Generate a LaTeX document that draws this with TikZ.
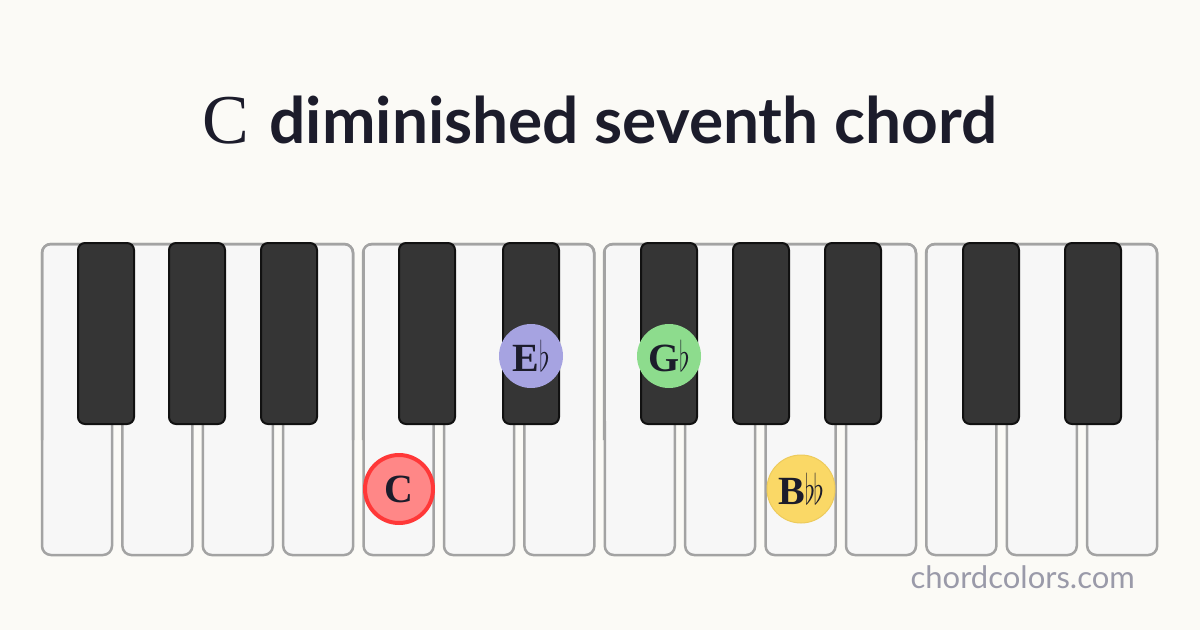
\documentclass[tikz,border=0pt]{standalone}
\usepackage{fix-cm}
\usepackage{fontspec}
\setmainfont{Liberation Serif}
\setsansfont{Lato}
\usepackage{graphicx}

\definecolor{bg}{HTML}{FBFAF6}
\definecolor{keyfill}{HTML}{F7F7F7}
\definecolor{keyline}{HTML}{A3A3A3}
\definecolor{blackfill}{HTML}{353535}
\definecolor{blackline}{HTML}{111111}
\definecolor{ink}{HTML}{1C1C2B}
\definecolor{redfill}{HTML}{FF8787}
\definecolor{redline}{HTML}{FF3838}
\definecolor{bluefill}{HTML}{A6A3E1}
\definecolor{greenfill}{HTML}{8DDC8D}
\definecolor{yellowfill}{HTML}{FAD866}
\definecolor{yellowline}{HTML}{EDCB5C}
\definecolor{webgray}{HTML}{9A9AA9}

\newcommand{\flatsign}{\scalebox{0.7}[1.05]{$\flat$}}

\begin{document}
\begin{tikzpicture}[x=1pt,y=-1pt,
	whitekey/.style={fill=keyfill,draw=keyline,line width=2.5pt,rounded corners=9pt},
	blackkey/.style={fill=blackfill,draw=blackline,line width=2pt,rounded corners=7pt},
	note/.style={circle,inner sep=0pt,text=ink,font=\bfseries\fontsize{40}{40}\selectfont}]
	\fill[bg] (0,0) rectangle (1200,630);
	\useasboundingbox (0,0) rectangle (1200,630);
	% title
	\node[anchor=base,text=ink,inner sep=0pt] (title) at (600,143)
		{{\rmfamily\fontsize{70}{70}\selectfont C}\hspace{20pt}{\sffamily\bfseries\fontsize{64}{64}\selectfont diminished seventh chord}};
	% white keys
	\foreach \i in {0,...,13}
		\draw[whitekey] ({42+80.4*\i},244) rectangle ++(70,311);
	% join the tops of each group
	\foreach \l/\r in {42/353,363/594,604/916,926/1157}{
		\fill[keyfill] ({\l+2},246) rectangle ({\r-2},421);
		\draw[keyline,line width=2.5pt,rounded corners=9pt] (\l,440) -- (\l,244) -- (\r,244) -- (\r,440);
	}
	% black keys
	\foreach \c in {106,197,289,427,531,669,761,853,991,1093}
		\draw[blackkey] ({\c-28},243) rectangle ({\c+28},424);
	% chord notes
	\node[note,fill=redfill,draw=redline,line width=4pt,minimum size=68pt] (n1) at (399,489) {C};
	\node[note,fill=bluefill,minimum size=64pt] (n2) at (531,356) {E\flatsign};
	\node[note,fill=greenfill,minimum size=64pt] (n3) at (669,356) {G\flatsign};
	\node[note,fill=yellowfill,draw=yellowline,line width=1pt,minimum size=68pt] (n4) at (801,489) {B\flatsign\kern-2pt\flatsign};
	% site name
	\node[anchor=base east,text=webgray,inner sep=0pt,font=\sffamily\fontsize{31}{31}\selectfont] (site) at (1135,588) {chordcolors.com};
\end{tikzpicture}
\end{document}
